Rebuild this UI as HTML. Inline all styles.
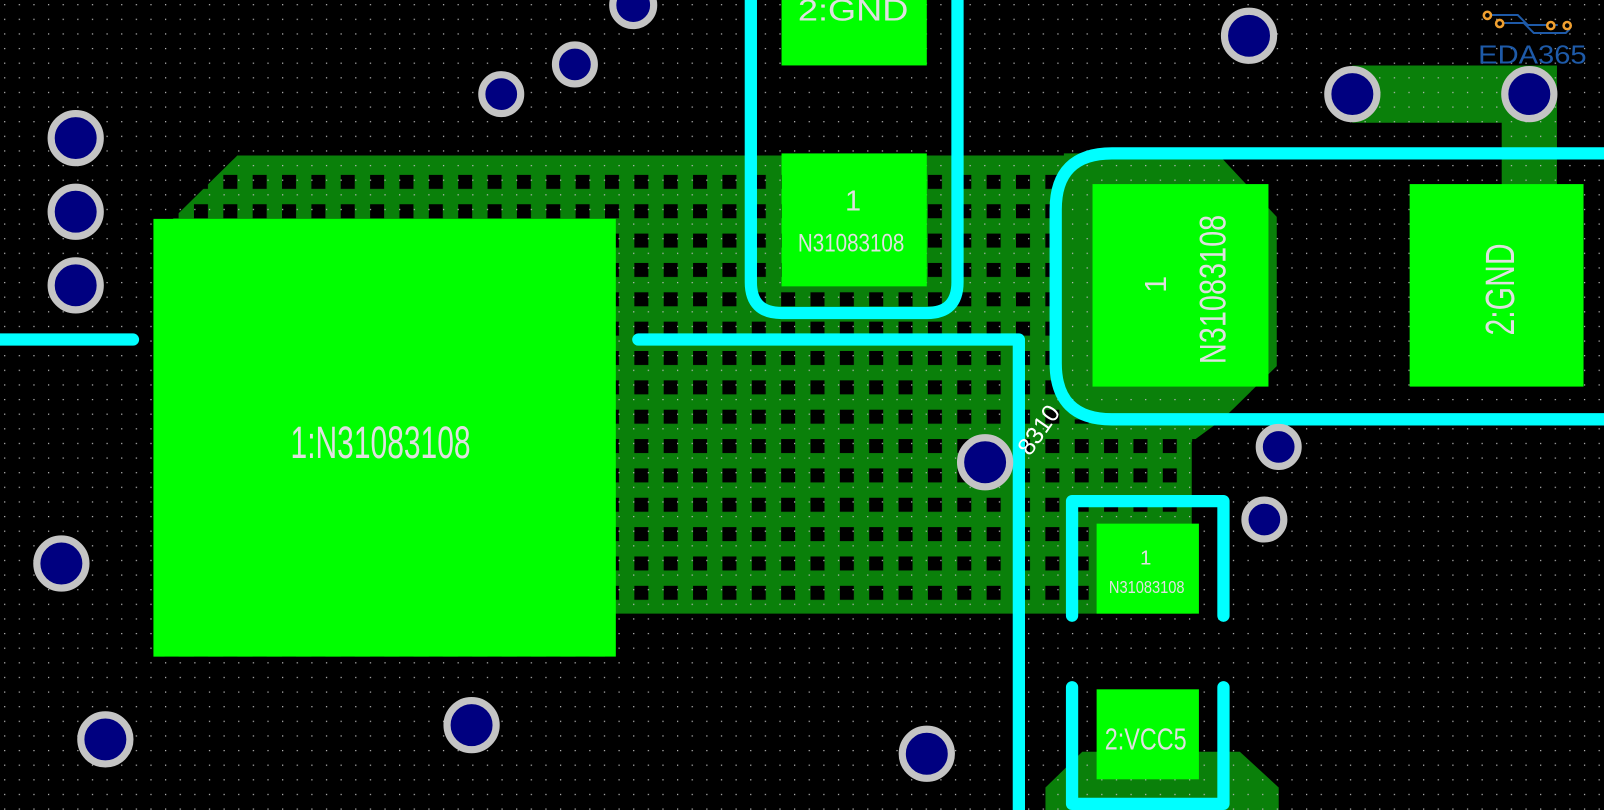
<!DOCTYPE html>
<html><head><meta charset="utf-8"><style>html,body{margin:0;padding:0;background:#000;overflow:hidden}svg{display:block}</style></head>
<body>
<svg width="1604" height="810" viewBox="0 0 1568 792" preserveAspectRatio="none" xmlns="http://www.w3.org/2000/svg" font-family="Liberation Sans, sans-serif">
<defs>
<pattern id="dots" x="4" y="4" width="14.3" height="14.3" patternUnits="userSpaceOnUse"><rect width="1.2" height="1.2" fill="#bbb"/></pattern>
<pattern id="holes" x="591.4" y="171" width="28.7" height="28.7" patternUnits="userSpaceOnUse"><rect width="28.7" height="28.7" fill="#0a800a"/><rect width="13.7" height="13.7" fill="#000"/></pattern>
</defs>
<rect width="1568" height="792" fill="#000"/>
<!-- copper pour -->
<path d="M232,152 L1190,152 L1248,212 L1248,358 L1195,410 L1165,432 L1165,600 L600,600 L600,642 L150,642 L150,540 L150,215 L168,215 Z" fill="url(#holes)"/>
<path d="M232,152 L1190,152 L1206,169 L215,169 Z" fill="#0a800a"/>
<path d="M1022,770 L1058,735 L1212,735 L1250,770 L1250,792 L1022,792 Z" fill="#0a800a"/>
<path d="M1040,150 L1190,150 L1248,212 L1248,358 L1195,410 L1040,410 Z" fill="#0a800a"/>
<path d="M1322,64 L1522,64 L1522,182 L1468,182 L1468,120 L1322,120 Z" fill="#0a800a"/>
<rect width="1568" height="792" fill="url(#dots)"/>
<!-- pads -->
<g fill="#00ff00">
<rect x="150" y="214" width="452" height="428"/>
<rect x="764" y="0" width="142" height="64"/>
<rect x="764" y="150" width="142" height="130"/>
<rect x="1068" y="180" width="172" height="198"/>
<rect x="1378" y="180" width="170" height="198"/>
<rect x="1072" y="512" width="100" height="88"/>
<rect x="1072" y="674" width="100" height="88"/>
</g>
<!-- cyan outlines -->
<g fill="none" stroke="#00ffff" stroke-width="12" stroke-linecap="round" stroke-linejoin="round">
<path d="M734,-10 L734,276 Q734,306 764,306 L906,306 Q936,306 936,276 L936,-10"/>
<path d="M1600,150 L1087,150 Q1032,150 1032,205 L1032,355 Q1032,410 1087,410 L1600,410"/>
<path d="M1048,602 L1048,490 L1196,490 L1196,602"/>
<path d="M1048,672 L1048,786 L1196,786 L1196,672"/>
<path d="M0,332 L130,332"/>
<path d="M624,332 L996,332 L996,800"/>
</g>
<!-- vias -->
<g fill="#000080" stroke="#c4c4c4" stroke-width="7">
<circle cx="619" cy="5" r="20"/>
<circle cx="562" cy="63" r="19"/>
<circle cx="490" cy="92" r="19"/>
<circle cx="74" cy="135" r="24"/>
<circle cx="74" cy="207" r="24"/>
<circle cx="74" cy="279" r="24"/>
<circle cx="60" cy="551" r="24"/>
<circle cx="103" cy="723" r="24"/>
<circle cx="461" cy="709" r="24"/>
<circle cx="906" cy="737" r="24"/>
<circle cx="963" cy="452" r="24"/>
<circle cx="1221" cy="35" r="24"/>
<circle cx="1322" cy="92" r="24"/>
<circle cx="1495" cy="92" r="24"/>
<circle cx="1250" cy="437" r="19"/>
<circle cx="1236" cy="508" r="19"/>
</g>
<!-- labels -->
<g fill="#e0e0e0" text-anchor="middle">
<text x="372" y="448" font-size="44" textLength="176" lengthAdjust="spacingAndGlyphs">1:N31083108</text>
<text x="834" y="20" font-size="30" textLength="108" lengthAdjust="spacingAndGlyphs">2:GND</text>
<text x="834" y="206" font-size="28">1</text>
<text x="832" y="246" font-size="24" textLength="104" lengthAdjust="spacingAndGlyphs">N31083108</text>
<text transform="translate(1140,278) rotate(-90)" font-size="30">1</text>
<text transform="translate(1198,283) rotate(-90)" font-size="36" textLength="146" lengthAdjust="spacingAndGlyphs">N31083108</text>
<text transform="translate(1480,283) rotate(-90)" font-size="40" textLength="90" lengthAdjust="spacingAndGlyphs">2:GND</text>
<text x="1120" y="552" font-size="20">1</text>
<text x="1121" y="580" font-size="17" textLength="74" lengthAdjust="spacingAndGlyphs">N31083108</text>
<text x="1120" y="733" font-size="30" textLength="80" lengthAdjust="spacingAndGlyphs">2:VCC5</text>
<text transform="translate(1022,425) rotate(-55)" font-size="24" fill="#fff">8310</text>
</g>
<!-- logo -->
<g transform="translate(1427,0) scale(0.9776)" fill="none" stroke="#1e5aa8" stroke-width="2">
<path d="M27,15 L58,15 L68,25 L98,25"/>
<path d="M38,23 L64,23 L74,33 L106,33 L110,29"/>
</g>
<g fill="#000" stroke="#f0a030" stroke-width="2.5">
<circle cx="1454" cy="15" r="3.5"/><circle cx="1466" cy="23" r="3.5"/><circle cx="1516" cy="25" r="3.5"/><circle cx="1532" cy="25" r="3.5"/>
</g>
<text x="1498" y="62" font-size="25" fill="#1e5aa8" text-anchor="middle" textLength="106" lengthAdjust="spacingAndGlyphs">EDA365</text>
</svg>
</body></html>
